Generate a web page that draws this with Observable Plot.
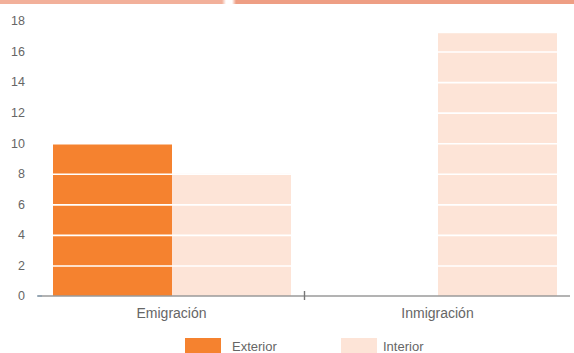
<!DOCTYPE html>
<html>
<head>
<meta charset="utf-8">
<script src="https://cdn.jsdelivr.net/npm/d3@7"></script>
<script src="https://cdn.jsdelivr.net/npm/@observablehq/plot@0.6"></script>
<style>
  html, body { margin: 0; padding: 0; background: #fff; }
  #wrap { position: relative; width: 574px; height: 353px; overflow: hidden; font-family: "Liberation Sans", Arial, sans-serif; }
  #band { position: absolute; left: 0; top: 0; width: 574px; height: 4px; background: linear-gradient(to right, #f2b09a 0, #f2b09a 222px, #fff 226px, #fff 232px, #ee9e84 236px, #ee9e84 574px); }
  #legend { position: relative; height: 31px; }
  .sw { position: absolute; top: 16px; width: 36px; height: 15px; }
  .lb { position: absolute; top: 17px; font-size: 13px; color: #666; }
</style>
</head>
<body>
<div id="wrap">
  <div id="chart"></div>
  <div id="legend"></div>
  <div id="band"></div>
</div>
<script>
const grupos = ["Emigración", "Inmigración"];
const series = ["Exterior", "Interior"];
const exterior = [10, 0];
const interior = [8, 17.2];
const yTicks = [0, 2, 4, 6, 8, 10, 12, 14, 16, 18];
const gridValues = [2, 4, 6, 8, 10, 12, 14, 16];
const colores = ["#f5822f", "#fde4d7"];

const data = [];
grupos.forEach((g, i) => {
  data.push({grupo: g, serie: series[0], valor: exterior[i]});
  data.push({grupo: g, serie: series[1], valor: interior[i]});
});

const W = 574, H = 322, ML = 38, MR = 3, MT = 21, MB = 26;

const chart = Plot.plot({
  width: W,
  height: H,
  marginLeft: ML,
  marginRight: MR,
  marginTop: MT,
  marginBottom: MB,
  style: {fontFamily: "'Liberation Sans', Arial, sans-serif", fontSize: "12px", color: "#666", background: "transparent"},
  fx: {domain: grupos, paddingInner: 0.1, paddingOuter: 0.05, label: null, axis: null},
  x: {domain: series, padding: 0, axis: null},
  y: {domain: [0, 18], ticks: yTicks, label: null, axis: null},
  color: {domain: series, range: colores},
  marks: [
    Plot.barY(data, {fx: "grupo", x: "serie", y: "valor", fill: "serie"}),
    Plot.ruleY(gridValues, {stroke: "#fff", strokeWidth: 1.6})
  ]
});

document.getElementById("chart").appendChild(chart);

// Axes drawn from the plot's own scales
const svg = d3.select(chart);
const y = chart.scale("y");
const fx = chart.scale("fx");
const y0 = y.apply(0);

const g = svg.append("g");
// y tick labels
yTicks.forEach(t => {
  g.append("text")
    .attr("x", ML - 13)
    .attr("y", y.apply(t))
    .attr("dy", "0.35em")
    .attr("text-anchor", "end")
    .attr("fill", "#666")
    .attr("font-size", 12.5)
    .text(t);
});
// baseline
g.append("line").attr("x1", ML).attr("x2", W - 4).attr("y1", y0).attr("y2", y0)
  .attr("stroke", "#9a9a9a").attr("stroke-width", 1.4);
g.append("line").attr("x1", ML - 1).attr("x2", ML + 4).attr("y1", y0).attr("y2", y0)
  .attr("stroke", "#8aa0b0").attr("stroke-width", 1.4);
// separator tick between groups
const bw = fx.bandwidth;
const sep = (fx.apply(grupos[0]) + bw + fx.apply(grupos[1])) / 2;
g.append("line").attr("x1", sep).attr("x2", sep).attr("y1", y0 - 5).attr("y2", y0 + 4)
  .attr("stroke", "#777").attr("stroke-width", 1.4);
// category labels
grupos.forEach(gr => {
  g.append("text")
    .attr("x", fx.apply(gr) + bw / 2)
    .attr("y", y0 + 17)
    .attr("dy", "0.35em")
    .attr("text-anchor", "middle")
    .attr("fill", "#666")
    .attr("font-size", 14)
    .text(gr);
});

// Legend
const legend = document.getElementById("legend");
const pos = [{sw: 185, lb: 232}, {sw: 341, lb: 383}];
series.forEach((s, i) => {
  const sw = document.createElement("div");
  sw.className = "sw";
  sw.style.left = pos[i].sw + "px";
  sw.style.background = colores[i];
  legend.appendChild(sw);
  const lb = document.createElement("div");
  lb.className = "lb";
  lb.style.left = pos[i].lb + "px";
  lb.textContent = s;
  legend.appendChild(lb);
});
</script>
</body>
</html>
